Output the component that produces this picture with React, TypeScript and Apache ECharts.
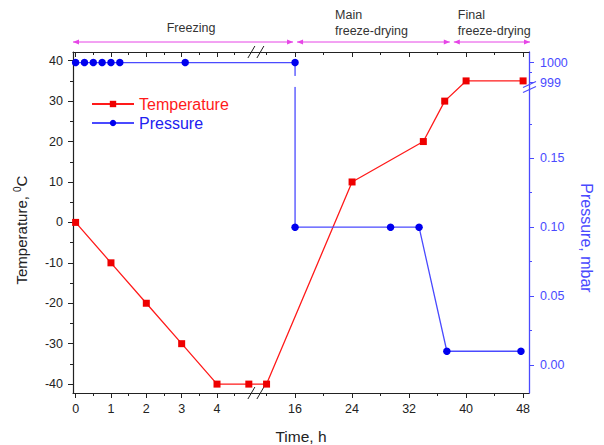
import { useEffect, useRef } from "react";
import * as echarts from "echarts";

// ---------- data ----------
const tempTime = [0, 1, 2, 3, 4, 4.9, 12, 24, 34, 37, 40, 48];
const tempValue = [0, -10, -20, -30, -40, -40, -40, 10, 20, 30, 35, 35];
const presTime = [0, 0.25, 0.5, 0.75, 1, 1.25, 3.1, 16, 16, 29.4, 33.4, 37.3, 47.7];
const presValue = [1000, 1000, 1000, 1000, 1000, 1000, 1000, 1000, 0.1, 0.1, 0.1, 0.01, 0.01];

// ---------- ticks ----------
const timeTicks = [0, 1, 2, 3, 4, 16, 24, 32, 40, 48];
const timeMinorTicks = [0.5, 1.5, 2.5, 3.5, 4.5, 12, 20, 28, 36, 44];
const tempTicks = [-40, -30, -20, -10, 0, 10, 20, 30, 40];
const tempMinorTicks = [-35, -25, -15, -5, 5, 15, 25, 35];
const presTicks = [0, 0.05, 0.1, 0.15, 999, 1000];
const presTickLabels = ["0.00", "0.05", "0.10", "0.15", "999", "1000"];
const presMinorTicks = [0.025, 0.075, 0.125, 0.175, 999.5];

// ---------- phases ----------
const phaseNames = ["Freezing", "Main\nfreeze-drying", "Final\nfreeze-drying"];
const phaseInnerBounds = [16, 38]; // hours

// ---------- broken time axis (two linear segments) ----------
const T_BREAK = [5, 11];
const T_GAP = 0.2;
const T_SEG2_SCALE = 0.2016;
const xPos = (t: number) =>
  t <= T_BREAK[0] ? t : T_BREAK[0] + T_GAP + (t - T_BREAK[1]) * T_SEG2_SCALE;
const X_MIN = -0.074;
const X_MAX = 12.826;

// ---------- broken pressure axis ----------
const P_BREAK = [0.2, 998.7];
const P_GAP = 0.0006;
const P_SEG2_SCALE = 0.01451;
const pPos = (p: number) =>
  p <= P_BREAK[0] ? p : P_BREAK[0] + P_GAP + (p - P_BREAK[1]) * P_SEG2_SCALE;
const P_MIN = -0.0203;
const P_MAX = 0.2271;

const T_MIN = -42.2;
const T_MAX = 42.15;

const GRID = { left: 73, top: 52, width: 456, height: 341 };
const FONT = "Liberation Sans, Arial, Helvetica, sans-serif";
const RED = "#ff1a1a";
const BLUE = "#2020f0";
const BLUE_AXIS = "#4a4aff";
const MAGENTA = "#e645e6";
const INK = "#222";

const near = (arr: number[], v: number) => arr.findIndex((a) => Math.abs(a - v) < 1e-6);

export default function App() {
  const ref = useRef<HTMLDivElement>(null);
  useEffect(() => {
    if (!ref.current) return;
    const chart = echarts.init(ref.current, undefined, { renderer: "svg" });

    const timeTickPos = timeTicks.map(xPos);
    const timeMinorPos = timeMinorTicks.map(xPos);
    const presTickPos = presTicks.map(pPos);
    const presMinorPos = presMinorTicks.map(pPos);

    const xBase = {
      type: "value" as const,
      min: X_MIN,
      max: X_MAX,
      splitLine: { show: false },
      axisPointer: { show: false },
    };
    const yTempBase = {
      type: "value" as const,
      min: T_MIN,
      max: T_MAX,
      splitLine: { show: false },
      position: "left" as const,
    };
    const yPresBase = {
      type: "value" as const,
      min: P_MIN,
      max: P_MAX,
      splitLine: { show: false },
      position: "right" as const,
    };
    const line = (show: boolean, color: string, width = 1.2) => ({
      show,
      onZero: false,
      lineStyle: { color, width },
    });

    const option: any = {
      animation: false,
      textStyle: { fontFamily: FONT },
      grid: { ...GRID, containLabel: false },
      legend: {
        orient: "vertical",
        left: 86,
        top: 91,
        itemWidth: 42,
        itemHeight: 8,
        itemGap: 3,
        textStyle: { fontSize: 16, fontFamily: FONT },
        data: [
          { name: "Temperature", textStyle: { color: RED } },
          { name: "Pressure", textStyle: { color: BLUE } },
        ],
      },
      xAxis: [
        {
          ...xBase,
          position: "bottom",
          axisLine: line(true, INK),
          axisTick: { show: true, inside: false, length: 5, customValues: timeTickPos, lineStyle: { color: INK } },
          axisLabel: {
            show: true,
            customValues: timeTickPos,
            margin: 9,
            fontSize: 12.5,
            color: INK,
            fontFamily: FONT,
            formatter: (v: number) => {
              const i = near(timeTickPos, v);
              return i >= 0 ? String(timeTicks[i]) : "";
            },
          },
        },
        {
          ...xBase,
          position: "bottom",
          axisLine: line(false, INK),
          axisTick: { show: true, inside: false, length: 3, customValues: timeMinorPos, lineStyle: { color: INK } },
          axisLabel: { show: false },
        },
        {
          ...xBase,
          position: "top",
          axisLine: line(true, INK),
          axisTick: { show: true, inside: true, length: 5, customValues: timeTickPos, lineStyle: { color: INK } },
          axisLabel: { show: false },
        },
        {
          ...xBase,
          position: "top",
          axisLine: line(false, INK),
          axisTick: { show: true, inside: true, length: 3, customValues: timeMinorPos, lineStyle: { color: INK } },
          axisLabel: { show: false },
        },
      ],
      yAxis: [
        {
          ...yTempBase,
          axisLine: line(true, INK),
          axisTick: { show: true, inside: false, length: 5, customValues: tempTicks, lineStyle: { color: INK } },
          axisLabel: {
            show: true,
            customValues: tempTicks,
            margin: 10,
            fontSize: 12.5,
            color: INK,
            fontFamily: FONT,
          },
        },
        {
          ...yTempBase,
          axisLine: line(false, INK),
          axisTick: { show: true, inside: false, length: 3, customValues: tempMinorTicks, lineStyle: { color: INK } },
          axisLabel: { show: false },
        },
        {
          ...yPresBase,
          axisLine: line(true, BLUE_AXIS, 1.3),
          axisTick: { show: true, inside: false, length: 5, customValues: presTickPos, lineStyle: { color: BLUE_AXIS } },
          axisLabel: {
            show: true,
            customValues: presTickPos,
            margin: 11,
            fontSize: 12.5,
            color: BLUE_AXIS,
            fontFamily: FONT,
            formatter: (v: number) => {
              const i = near(presTickPos, v);
              return i >= 0 ? presTickLabels[i] : "";
            },
          },
        },
        {
          ...yPresBase,
          axisLine: line(false, BLUE_AXIS),
          axisTick: { show: true, inside: false, length: 3, customValues: presMinorPos, lineStyle: { color: BLUE_AXIS } },
          axisLabel: { show: false },
        },
      ],
      series: [
        {
          name: "Temperature",
          type: "line",
          xAxisIndex: 0,
          yAxisIndex: 0,
          data: tempTime.map((t, i) => [xPos(t), tempValue[i]]),
          symbol: "rect",
          symbolSize: 7,
          lineStyle: { color: RED, width: 1.3 },
          itemStyle: { color: "#ee0000" },
          z: 3,
        },
        {
          name: "Pressure",
          type: "line",
          xAxisIndex: 0,
          yAxisIndex: 2,
          data: presTime.map((t, i) => [xPos(t), pPos(presValue[i])]),
          symbol: "circle",
          symbolSize: 7.5,
          lineStyle: { color: BLUE_AXIS, width: 1.3 },
          itemStyle: { color: "#0000ee" },
          z: 4,
        },
      ],
    };

    chart.setOption(option);

    // ---------- decorations placed through the axes ----------
    const px = (u: number) => chart.convertToPixel({ xAxisIndex: 0 }, u) as unknown as number;
    const pyP = (v: number) => chart.convertToPixel({ yAxisIndex: 2 }, v) as unknown as number;
    const gL = GRID.left;
    const gR = GRID.left + GRID.width;
    const gT = GRID.top;
    const gB = GRID.top + GRID.height;

    const g: any[] = [];
    // phase arrows
    const arrowY = 42;
    const bounds = [gL, ...phaseInnerBounds.map((t) => px(xPos(t))), gR + 1];
    const head = (x: number, dir: number) => ({
      type: "polygon",
      silent: true,
      shape: { points: [[x, arrowY], [x - dir * 6, arrowY - 2.5], [x - dir * 6, arrowY + 2.5]] },
      style: { fill: MAGENTA },
    });
    for (let i = 0; i < 3; i++) {
      const a = bounds[i] + (i === 0 ? 0 : 2);
      const b = bounds[i + 1] - (i === 2 ? 0 : 2);
      g.push({
        type: "line",
        silent: true,
        shape: { x1: a, y1: arrowY, x2: b, y2: arrowY },
        style: { stroke: MAGENTA, lineWidth: 1 },
      });
      g.push(head(a, -1));
      g.push(head(b, 1));
      if (i === 0) {
        g.push({
          type: "text",
          silent: true,
          style: {
            text: phaseNames[i],
            x: (a + b) / 2 + 8,
            y: 28,
            align: "center",
            verticalAlign: "middle",
            fontSize: 12.5,
            fontFamily: FONT,
            fill: "#333",
          },
        });
      } else {
        g.push({
          type: "text",
          silent: true,
          style: {
            text: phaseNames[i],
            x: a + (i === 1 ? 38 : 4),
            y: 23,
            align: "left",
            verticalAlign: "middle",
            lineHeight: 16,
            fontSize: 12.5,
            fontFamily: FONT,
            fill: "#333",
          },
        });
      }
    }

    // x-axis break marks (top and bottom)
    const xb = px(T_BREAK[0] + T_GAP / 2);
    for (const y of [gT, gB]) {
      g.push({ type: "rect", silent: true, shape: { x: xb - 4, y: y - 2, width: 8, height: 4 }, style: { fill: "#fff" } });
      g.push({ type: "line", silent: true, shape: { x1: xb - 8, y1: y + 6, x2: xb - 1, y2: y - 6 }, style: { stroke: INK, lineWidth: 1 } });
      g.push({ type: "line", silent: true, shape: { x1: xb + 1, y1: y + 6, x2: xb + 8, y2: y - 6 }, style: { stroke: INK, lineWidth: 1 } });
    }
    // pressure-axis break mark
    const yb = pyP(P_BREAK[0] + P_GAP / 2) - 1;
    g.push({ type: "rect", silent: true, shape: { x: gR - 2, y: yb - 2, width: 4, height: 4 }, style: { fill: "#fff" } });
    g.push({ type: "line", silent: true, shape: { x1: gR - 6, y1: yb - 0.5, x2: gR + 7, y2: yb - 6.5 }, style: { stroke: BLUE_AXIS, lineWidth: 1.1 } });
    g.push({ type: "line", silent: true, shape: { x1: gR - 6, y1: yb + 4.5, x2: gR + 7, y2: yb - 1.5 }, style: { stroke: BLUE_AXIS, lineWidth: 1.1 } });
    // gap of the pressure drop line at the axis break
    g.push({ type: "rect", silent: true, z: 100, shape: { x: px(xPos(16)) - 2, y: yb - 12, width: 4, height: 11 }, style: { fill: "#fff" } });

    // axis titles
    g.push({
      type: "text",
      silent: true,
      x: 21,
      y: 230,
      rotation: Math.PI / 2,
      style: {
        text: "Temperature, {s|0}C",
        align: "center",
        verticalAlign: "middle",
        fontSize: 15,
        fontFamily: FONT,
        fill: INK,
        rich: { s: { fontSize: 10, verticalAlign: "top", lineHeight: 18, fill: INK, fontFamily: FONT } },
      },
    });
    g.push({
      type: "text",
      silent: true,
      x: 586,
      y: 238,
      rotation: -Math.PI / 2,
      style: {
        text: "Pressure, mbar",
        align: "center",
        verticalAlign: "middle",
        fontSize: 16,
        fontFamily: FONT,
        fill: BLUE_AXIS,
      },
    });
    g.push({
      type: "text",
      silent: true,
      style: {
        text: "Time, h",
        x: (gL + gR) / 2,
        y: 436,
        align: "center",
        verticalAlign: "middle",
        fontSize: 15.5,
        fontFamily: FONT,
        fill: INK,
      },
    });

    chart.setOption({ graphic: g });

    return () => chart.dispose();
  }, []);

  return (
    <div
      ref={ref}
      style={{ position: "fixed", left: 0, top: 0, width: 604, height: 445, background: "#fff" }}
    />
  );
}
